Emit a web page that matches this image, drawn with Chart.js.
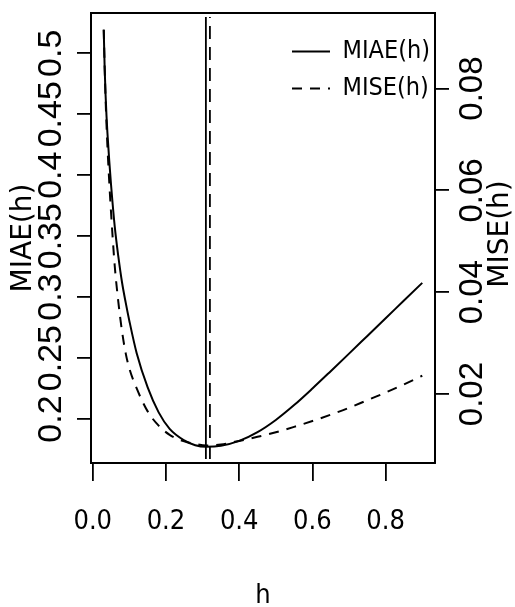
<!DOCTYPE html>
<html>
<head>
<meta charset="utf-8">
<script src="https://cdn.jsdelivr.net/npm/chart.js@4"></script>
<style>
  body { margin: 0; background: #fff; }
  #box { width: 515px; height: 607px; }
</style>
</head>
<body>
<div id="box"><canvas id="grafico"></canvas></div>
<script>
// bandwidth grid and the two error curves
const h = [0.03, 0.0325, 0.035, 0.0375, 0.04, 0.045, 0.05, 0.06, 0.07, 0.08, 0.09, 0.10, 0.12, 0.15, 0.18, 0.21, 0.25, 0.28,
           0.31, 0.35, 0.40, 0.45, 0.50, 0.55, 0.60, 0.65, 0.70, 0.75, 0.80, 0.85, 0.90];
const miae = [0.519, 0.488, 0.466, 0.449, 0.435, 0.412, 0.392, 0.358, 0.333, 0.312, 0.2955, 0.2805, 0.254, 0.226, 0.2055, 0.192, 0.1825, 0.1785,
              0.1773, 0.1781, 0.1821, 0.1893, 0.1993, 0.2115, 0.2251, 0.2393, 0.2537, 0.2682, 0.2827, 0.2972, 0.3117];
const mise = [0.0916, 0.0843, 0.0781, 0.0730, 0.0688, 0.0617, 0.0556, 0.0452, 0.0380, 0.0323, 0.0280, 0.0250, 0.0211, 0.0166, 0.0138, 0.0120, 0.0107, 0.0102,
              0.0099, 0.0101, 0.0108, 0.0116, 0.0125, 0.01355, 0.0147, 0.01595, 0.0173, 0.0188, 0.0203, 0.0219, 0.0236];

// optimal bandwidths (MIAE, MISE) and the vertical extent of their marker lines (MIAE units)
const hOpt = [0.309, 0.320];
const vLineY = [0.1672, 0.5298];

const xTicks = [0, 0.2, 0.4, 0.6, 0.8];
const miaeTicks = [0.2, 0.25, 0.3, 0.35, 0.4, 0.45, 0.5];
const miseTicks = [0.02, 0.04, 0.06, 0.08];

const narrow = "'Liberation Sans Narrow', 'DejaVu Sans Condensed', 'Liberation Sans', sans-serif";
const regular = "'Liberation Sans', Arial, sans-serif";
const wide = "'DejaVu Sans', sans-serif";

Chart.defaults.color = '#000';

const pontos = (ys) => h.map((x, i) => ({ x: x, y: ys[i] }));
const vline = (x) => vLineY.map(y => ({ x: x, y: y }));

// legend moved inside the box, right title drawn bottom-to-top like R
const extras = {
  id: 'extras',
  afterLayout(chart) {
    const lg = chart.legend;
    const w = lg.width, hh = lg.height;
    lg.left = 280; lg.right = lg.left + w;
    lg.top = 27; lg.bottom = lg.top + hh;
  },
  afterDraw(chart) {
    const c = chart.ctx;
    c.save();
    c.translate(501, 234);
    c.rotate(-Math.PI / 2);
    c.font = "28px " + wide;
    c.fillStyle = '#000';
    c.textAlign = 'center';
    c.textBaseline = 'middle';
    c.fillText('MISE(h)', 0, 0);
    c.restore();
  }
};

const ctx = document.getElementById('grafico').getContext('2d');
const chart = new Chart(ctx, {
  type: 'line',
  data: {
    datasets: [
      {
        label: 'MIAE(h)',
        data: pontos(miae),
        yAxisID: 'y',
        borderColor: '#000',
        borderWidth: 2,
        pointRadius: 0,
        cubicInterpolationMode: 'monotone'
      },
      {
        label: 'MISE(h)',
        data: pontos(mise),
        yAxisID: 'y2',
        borderColor: '#000',
        borderWidth: 2,
        borderDash: [10, 8],
        pointRadius: 0,
        cubicInterpolationMode: 'monotone'
      },
      {
        label: 'h MIAE',
        data: vline(hOpt[0]),
        yAxisID: 'y',
        borderColor: '#000',
        borderWidth: 1.8,
        pointRadius: 0
      },
      {
        label: 'h MISE',
        data: vline(hOpt[1]),
        yAxisID: 'y',
        borderColor: '#000',
        borderWidth: 1.8,
        borderDash: [13, 8],
        pointRadius: 0
      }
    ]
  },
  options: {
    responsive: true,
    maintainAspectRatio: false,
    animation: false,
    devicePixelRatio: 1,
    layout: { padding: 0 },
    scales: {
      x: {
        type: 'linear',
        position: 'bottom',
        min: -0.0048,
        max: 0.9348,
        afterBuildTicks: (s) => { s.ticks = xTicks.map(v => ({ value: v })); },
        afterFit: (s) => { s.height = 144; },
        ticks: {
          autoSkip: false,
          maxRotation: 0,
          padding: 25,
          font: { family: narrow, size: 27 },
          callback: (v) => Number(v).toFixed(1)
        },
        grid: { drawOnChartArea: false, tickLength: 18, color: '#000', lineWidth: 1.8 },
        border: { display: true, color: '#000', width: 2 },
        title: { display: true, text: 'h', font: { family: narrow, size: 27, lineHeight: 0.8 }, padding: 0 }
      },
      x2: {
        type: 'linear',
        position: 'top',
        min: -0.0048,
        max: 0.9348,
        afterFit: (s) => { s.height = 13; },
        ticks: { display: false },
        grid: { display: false },
        border: { display: true, color: '#000', width: 2 }
      },
      y: {
        position: 'left',
        min: 0.164,
        max: 0.533,
        afterBuildTicks: (s) => { s.ticks = miaeTicks.map(v => ({ value: v })); },
        afterFit: (s) => { s.width = 91; },
        ticks: {
          autoSkip: false,
          minRotation: 90,
          maxRotation: 90,
          crossAlign: 'center',
          padding: -7.5,
          font: { family: regular, size: 34 },
          callback: (v) => String(Number(v.toFixed(2)))
        },
        grid: { drawOnChartArea: false, tickLength: 14, color: '#000', lineWidth: 1.8 },
        border: { display: true, color: '#000', width: 2 },
        title: { display: true, text: 'MIAE(h)', font: { family: wide, size: 28 }, padding: { top: 7 } }
      },
      y2: {
        position: 'right',
        min: 0.00646,
        max: 0.09484,
        afterBuildTicks: (s) => { s.ticks = miseTicks.map(v => ({ value: v })); },
        afterFit: (s) => { s.width = 80; },
        ticks: {
          autoSkip: false,
          minRotation: 90,
          maxRotation: 90,
          crossAlign: 'center',
          padding: -8.6,
          font: { family: regular, size: 33 },
          callback: (v) => Number(v).toFixed(2)
        },
        grid: { drawOnChartArea: false, tickLength: 14, color: '#000', lineWidth: 1.8 },
        border: { display: true, color: '#000', width: 2 }
      }
    },
    plugins: {
      tooltip: { enabled: false },
      legend: {
        position: 'chartArea',
        align: 'start',
        labels: {
          usePointStyle: true,
          pointStyle: 'line',
          pointStyleWidth: 38,
          padding: 12,
          color: '#000',
          font: { family: narrow, size: 25 },
          // only the two curves, with their own dash and width
          generateLabels: (chart) => {
            const itens = Chart.defaults.plugins.legend.labels.generateLabels(chart);
            return itens.filter(it => it.datasetIndex < 2).map(it => {
              const ds = chart.data.datasets[it.datasetIndex];
              it.lineDash = ds.borderDash || [];
              it.lineWidth = ds.borderWidth;
              it.strokeStyle = '#000';
              return it;
            });
          }
        }
      }
    }
  },
  plugins: [extras]
});
</script>
</body>
</html>
